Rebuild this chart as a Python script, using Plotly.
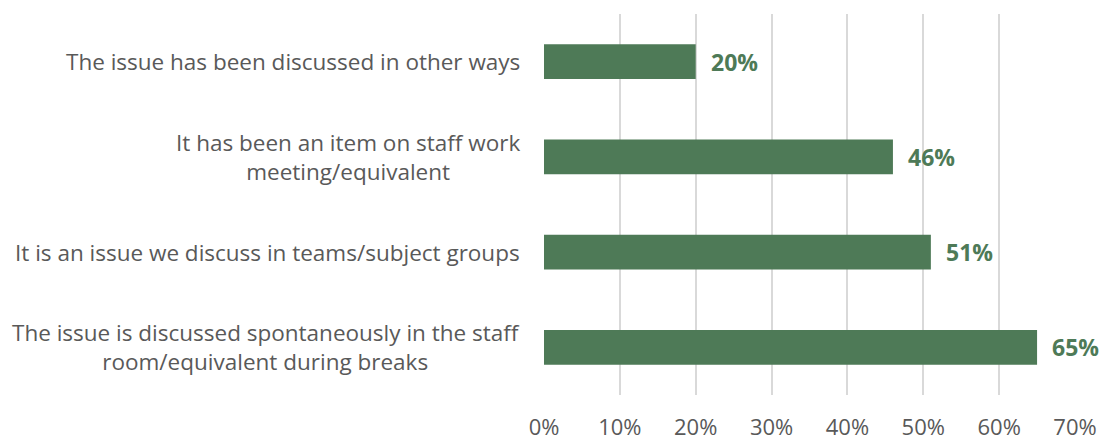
import plotly.graph_objects as go

# Survey responses, listed top to bottom as shown
categories = [
    "The issue has been discussed in other ways",
    "It has been an item on staff work<br>meeting/equivalent",
    "It is an issue we discuss in teams/subject groups",
    "The issue is discussed spontaneously in the staff<br>room/equivalent during breaks",
]
values = [0.20, 0.46, 0.51, 0.65]
tick_values = [0, 0.1, 0.2, 0.3, 0.4, 0.5, 0.6, 0.7]
tick_labels = ["0%", "10%", "20%", "30%", "40%", "50%", "60%", "70%"]

BAR_COLOR = "#4e7a57"
TEXT_GRAY = "#595959"
FONT = "Open Sans"

fig = go.Figure(
    go.Bar(
        x=values,
        y=categories,
        orientation="h",
        marker=dict(color=BAR_COLOR, line=dict(width=0)),
        width=0.366,
        hoverinfo="skip",
    )
)

# Category labels: right-aligned block, lines centred within it
for cat in categories:
    fig.add_annotation(
        x=0, xref="paper", y=cat, yref="y",
        text=cat, showarrow=False,
        xanchor="right", yanchor="middle", align="center",
        xshift=-22,
        font=dict(family=FONT, size=22.5, color=TEXT_GRAY),
    )

# Value labels just beyond each bar end
for cat, v in zip(categories, values):
    fig.add_annotation(
        x=v, xref="x", y=cat, yref="y",
        text=f"<b>{round(v * 100)}%</b>", showarrow=False,
        xanchor="left", yanchor="middle", xshift=13,
        font=dict(family=FONT, size=23, color=BAR_COLOR),
    )

fig.update_layout(
    width=1100,
    height=441,
    margin=dict(l=544, r=25, t=14, b=46, autoexpand=False),
    paper_bgcolor="white",
    plot_bgcolor="white",
    showlegend=False,
    font=dict(family=FONT, color=TEXT_GRAY),
    xaxis=dict(
        range=[0, 0.7],
        tickvals=tick_values,
        ticktext=tick_labels,
        showgrid=True,
        gridcolor="#d9d9d9",
        gridwidth=2,
        zeroline=False,
        showline=False,
        ticks="",
        ticklabelstandoff=17,
        automargin=False,
        tickfont=dict(family=FONT, size=22, color=TEXT_GRAY),
        fixedrange=True,
    ),
    yaxis=dict(
        categoryorder="array",
        categoryarray=categories,
        autorange="reversed",
        showticklabels=False,
        showgrid=False,
        zeroline=False,
        showline=False,
        ticks="",
        automargin=False,
        fixedrange=True,
    ),
)

fig.write_html("out.html")
